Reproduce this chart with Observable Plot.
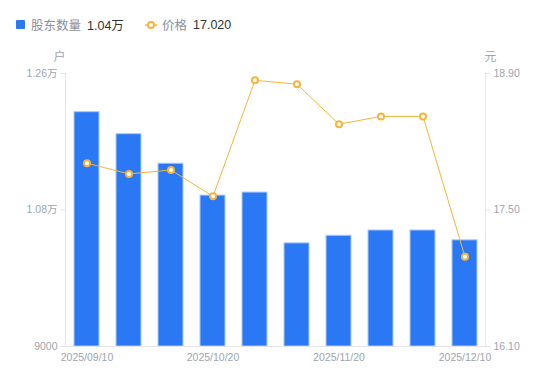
<!DOCTYPE html>
<html>
<head>
<meta charset="utf-8">
<script src="https://cdn.jsdelivr.net/npm/d3@7"></script>
<script src="https://cdn.jsdelivr.net/npm/@observablehq/plot@0.6"></script>
<style>
  html, body { margin: 0; padding: 0; background: #fff; }
  body { width: 550px; height: 381px; overflow: hidden; font-family: "Noto Sans CJK SC", "Noto Sans", sans-serif; }
  #legend { position: relative; height: 40px; font-size: 12.5px; }
  #legend .item { position: absolute; top: 15px; display: flex; align-items: center; white-space: nowrap; }
  #legend .lab { color: #8a8f9c; margin-right: 6px; }
  #legend .val { color: #333; font-family: "Liberation Sans", Arial, sans-serif; font-size: 12.5px; }
  #chart svg { display: block; }
</style>
</head>
<body>
<div id="legend">
  <div class="item" style="left:16px">
    <span style="display:inline-block;width:9px;height:9px;background:#2a78f4;border-radius:1px;margin-right:6px"></span>
    <span class="lab">股东数量</span><span class="val">1.04<span style="font-family:'Noto Sans CJK SC'">万</span></span>
  </div>
  <div class="item" style="left:145px">
    <svg width="12" height="10" style="margin-right:5px"><line x1="0" y1="5" x2="12" y2="5" stroke="#f8b43a" stroke-width="1.5"/><circle cx="6" cy="5" r="3" fill="#fff" stroke="#f8b43a" stroke-width="2"/></svg>
    <span class="lab">价格</span><span class="val">17.020</span>
  </div>
</div>
<div id="chart"></div>
<script>
const dates = ["2025/09/10","2025/09/19","2025/09/30","2025/10/20","2025/10/31","2025/11/10","2025/11/20","2025/11/28","2025/12/05","2025/12/10"];
const holders = [12090, 11800, 11410, 10990, 11030, 10360, 10460, 10530, 10530, 10400];
const prices = [17.98, 17.87, 17.91, 17.64, 18.83, 18.79, 18.38, 18.46, 18.46, 17.02];
const shownDates = ["2025/09/10","2025/10/20","2025/11/20","2025/12/10"];
const leftTicks = [9000, 10800, 12600];
const leftTickLabels = ["9000", "1.08万", "1.26万"];
const rightTicks = [16.10, 17.50, 18.90];

const yMin = 9000, yMax = 12600, pMin = 16.10, pMax = 18.90;
const p2y = p => yMin + (p - pMin) / (pMax - pMin) * (yMax - yMin);
const y2p = y => pMin + (y - yMin) / (yMax - yMin) * (pMax - pMin);

const data = dates.map((d, i) => ({date: d, holders: holders[i], price: prices[i], py: p2y(prices[i])}));

const gray = "#a0a4b0";
const axisLine = "#e3e5ea";

const chart = Plot.plot({
  width: 550,
  height: 341,
  marginTop: 33,
  marginBottom: 35,
  marginLeft: 65,
  marginRight: 65,
  style: {fontFamily: "'Liberation Sans', 'Noto Sans CJK SC', sans-serif", fontSize: "10.5px", color: gray, background: "#fff"},
  x: {domain: dates, paddingInner: 0.405, paddingOuter: 0.2, align: 0.5, label: null},
  y: {domain: [yMin, yMax], label: null},
  marks: [
    Plot.frame({anchor: "left", stroke: axisLine}),
    Plot.frame({anchor: "right", stroke: axisLine}),
    Plot.barY(data, {x: "date", y1: yMin, y2: "holders", fill: "#2a78f4", stroke: "#a9c9fb", strokeWidth: 1}),
    Plot.axisX({ticks: shownDates, tickSize: 0, tickPadding: 7, fill: gray, fontSize: 10.5, label: null}),
    Plot.axisY({ticks: leftTicks, tickFormat: (d) => leftTickLabels[leftTicks.indexOf(d)], anchor: "left", tickSize: 5, tickPadding: 3, stroke: axisLine, fill: gray, fontSize: 10.5, label: null}),
    Plot.axisY({ticks: rightTicks.map(p2y), tickFormat: (d) => y2p(d).toFixed(2), anchor: "right", tickSize: 5, tickPadding: 3, stroke: axisLine, fill: gray, fontSize: 10.5, label: null}),
    Plot.ruleY([yMin], {stroke: axisLine}),
    Plot.line(data, {x: "date", y: "py", stroke: "#f8b43a", strokeWidth: 1}),
    Plot.dot(data, {x: "date", y: "py", r: 3, fill: "#fff", stroke: "#f8b43a", strokeWidth: 2}),
    Plot.text(["户"], {frameAnchor: "top-left", lineAnchor: "middle", dx: -12, dy: -16, fill: gray, fontSize: 12, fontFamily: "Noto Sans CJK SC"}),
    Plot.text(["元"], {frameAnchor: "top-right", lineAnchor: "middle", dx: 11, dy: -16, fill: gray, fontSize: 12, fontFamily: "Noto Sans CJK SC"})
  ]
});
document.getElementById("chart").appendChild(chart);
</script>
</body>
</html>
